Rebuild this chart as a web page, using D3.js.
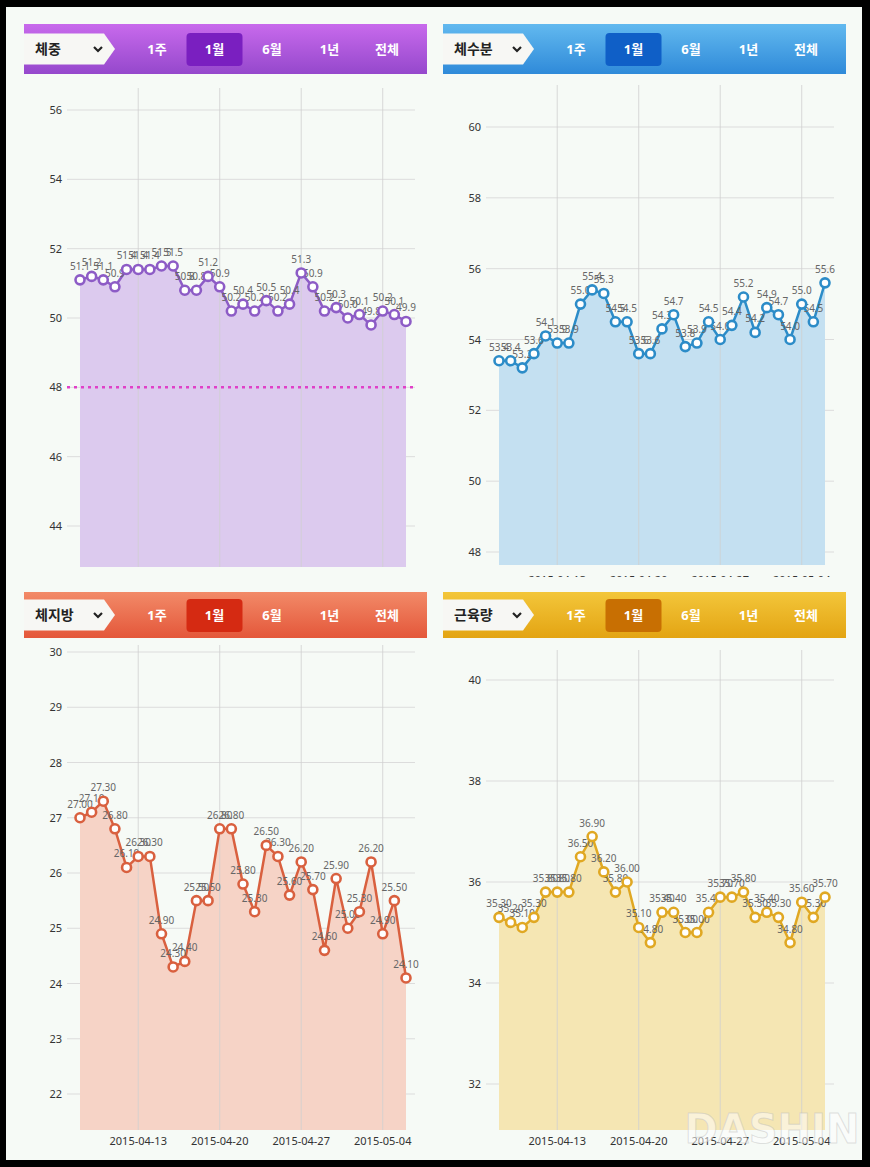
<!DOCTYPE html>
<html><head><meta charset="utf-8">
<script src="https://cdnjs.cloudflare.com/ajax/libs/d3/7.8.5/d3.min.js"></script>
<style>
html,body{margin:0;padding:0;background:#000;}
svg{display:block;}
</style></head>
<body>
<svg id="c" width="870" height="1167"></svg>
<script>
// ---------- data ----------
const dates = ["2015-04-08","2015-04-09","2015-04-10","2015-04-11","2015-04-12","2015-04-13","2015-04-14","2015-04-15","2015-04-16","2015-04-17","2015-04-18","2015-04-19","2015-04-20","2015-04-21","2015-04-22","2015-04-23","2015-04-24","2015-04-25","2015-04-26","2015-04-27","2015-04-28","2015-04-29","2015-04-30","2015-05-01","2015-05-02","2015-05-03","2015-05-04","2015-05-05","2015-05-06"];
const weight = [51.1,51.2,51.1,50.9,51.4,51.4,51.4,51.5,51.5,50.8,50.8,51.2,50.9,50.2,50.4,50.2,50.5,50.2,50.4,51.3,50.9,50.2,50.3,50.0,50.1,49.8,50.2,50.1,49.9];
const water = [53.4,53.4,53.2,53.6,54.1,53.9,53.9,55.0,55.4,55.3,54.5,54.5,53.6,53.6,54.3,54.7,53.8,53.9,54.5,54.0,54.4,55.2,54.2,54.9,54.7,54.0,55.0,54.5,55.6];
const fat = [27.0,27.1,27.3,26.8,26.1,26.3,26.3,24.9,24.3,24.4,25.5,25.5,26.8,26.8,25.8,25.3,26.5,26.3,25.6,26.2,25.7,24.6,25.9,25.0,25.3,26.2,24.9,25.5,24.1];
const muscle = [35.3,35.2,35.1,35.3,35.8,35.8,35.8,36.5,36.9,36.2,35.8,36.0,35.1,34.8,35.4,35.4,35.0,35.0,35.4,35.7,35.7,35.8,35.3,35.4,35.3,34.8,35.6,35.3,35.7];
const titles = ["체중","체수분","체지방","근육량"];
const tabs = ["1주","1월","6월","1년","전체"];
const selectedTab = "1월";
const xTicks = ["2015-04-13","2015-04-20","2015-04-27","2015-05-04"];
const yTicksWeight = [44,46,48,50,52,54,56];
const yTicksWater = [48,50,52,54,56,58,60];
const yTicksFat = [22,23,24,25,26,27,28,29,30];
const yTicksMuscle = [32,34,36,38,40];
const goalWeight = [48];

// ---------- layout / styles ----------
const parse = d3.timeParse("%Y-%m-%d");
const svg = d3.select("#c");
svg.append("rect").attr("x",6).attr("y",7).attr("width",856).attr("height",1153).attr("fill","#f6faf6");

const defs = svg.append("defs");

const panels = [
  {title:titles[0], values:weight, ticks:yTicksWeight, fmt:d3.format(".1f"), ox:0, hy:24, hh:50,
   yDom:[44,56], yRng:[526,110], plotTop:88, plotBot:567, clipBot:568, xLblDy:15, showX:false, goal:goalWeight,
   g1:"#c86aec", g2:"#9548cc", sel:"#7a1fc0", line:"#8d5cc6", fill:"#dccaee", lbl:"#666"},
  {title:titles[1], values:water, ticks:yTicksWater, fmt:d3.format(".1f"), ox:419, hy:24, hh:50,
   yDom:[48,60], yRng:[552,127], plotTop:85, plotBot:565, clipBot:577, xLblDy:19, showX:true, goal:[],
   g1:"#62b9ef", g2:"#2f8ad9", sel:"#0f5fc7", line:"#2c8cc8", fill:"#c4e0f1", lbl:"#666"},
  {title:titles[2], values:fat, ticks:yTicksFat, fmt:d3.format(".2f"), ox:0, hy:592, hh:46,
   yDom:[22,30], yRng:[1094,652], plotTop:645, plotBot:1130, clipBot:1146, xLblDy:15, showX:true, goal:[],
   g1:"#f28a68", g2:"#e4573a", sel:"#d52a12", line:"#d9603f", fill:"#f6d3c6", lbl:"#666"},
  {title:titles[3], values:muscle, ticks:yTicksMuscle, fmt:d3.format(".2f"), ox:419, hy:592, hh:46,
   yDom:[32,40], yRng:[1084,680], plotTop:650, plotBot:1130, clipBot:1146, xLblDy:15, showX:true, goal:[],
   g1:"#f3c63a", g2:"#e3a413", sel:"#c86f02", line:"#e0a823", fill:"#f5e6b3", lbl:"#666"}
];

const font = "'Noto Sans', 'Noto Sans CJK KR', sans-serif";

panels.forEach((p,pi)=>{
  const g = svg.append("g").attr("transform",`translate(${p.ox},0)`);
  // header gradient
  const gid = "hg"+pi;
  const lg = defs.append("linearGradient").attr("id",gid).attr("x1",0).attr("y1",0).attr("x2",0).attr("y2",1);
  lg.append("stop").attr("offset","0%").attr("stop-color",p.g1);
  lg.append("stop").attr("offset","100%").attr("stop-color",p.g2);
  const hx = 24, hw = 403;
  g.append("rect").attr("x",hx).attr("y",p.hy).attr("width",hw).attr("height",p.hh).attr("fill",`url(#${gid})`);
  const cy = p.hy + p.hh/2;
  const th = 31;
  g.append("path")
    .attr("d",`M${hx},${cy-th/2} H${hx+80} L${hx+91},${cy} L${hx+80},${cy+th/2} H${hx} Z`)
    .attr("fill","#f7f7f4");
  g.append("text").attr("x",hx+11).attr("y",cy+5).attr("font-family",font).attr("font-weight","bold")
    .attr("font-size",14).attr("fill","#222").text(p.title);
  g.append("path").attr("d",`M${hx+70},${cy-2} l4,4 l4,-4`).attr("fill","none").attr("stroke","#222").attr("stroke-width",2.2);
  const tabX = d3.scalePoint().domain(tabs).range([157,387]);
  tabs.forEach(t=>{
    if(t===selectedTab){
      g.append("rect").attr("x",tabX(t)-28).attr("y",cy-16).attr("width",56).attr("height",33).attr("rx",4)
        .attr("fill",p.sel);
    }
    g.append("text").attr("x",tabX(t)).attr("y",cy+5).attr("text-anchor","middle").attr("font-family",font)
      .attr("font-weight","bold").attr("font-size",13).attr("fill","#fff").text(t);
  });

  // scales
  const x = d3.scaleTime().domain([parse(dates[0]), parse(dates[dates.length-1])]).range([80,406]);
  const y = d3.scaleLinear().domain(p.yDom).range(p.yRng);

  const cid = "clip"+pi;
  defs.append("clipPath").attr("id",cid).append("rect").attr("x",0).attr("y",p.hy+p.hh).attr("width",440).attr("height",p.clipBot-(p.hy+p.hh));
  const pg = g.append("g").attr("clip-path",`url(#${cid})`);

  // horizontal grid
  pg.append("g").selectAll("line").data(p.ticks).join("line")
    .attr("x1",67).attr("x2",415).attr("y1",d=>y(d)).attr("y2",d=>y(d))
    .attr("stroke","#dcdcdc").attr("stroke-width",1);
  // y labels
  pg.append("g").selectAll("text").data(p.ticks).join("text")
    .attr("x",62).attr("y",d=>y(d)+4).attr("text-anchor","end").attr("font-family",font)
    .attr("font-size",11).attr("fill","#333").text(d=>d);

  const pts = dates.map((d,i)=>({d:parse(d), v:p.values[i]}));
  // area
  const area = d3.area().x(d=>x(d.d)).y0(p.plotBot).y1(d=>y(d.v));
  pg.append("path").datum(pts).attr("d",area).attr("fill",p.fill);
  // vertical grid
  pg.append("g").selectAll("line").data(xTicks).join("line")
    .attr("x1",d=>x(parse(d))).attr("x2",d=>x(parse(d))).attr("y1",p.plotTop).attr("y2",p.plotBot)
    .attr("stroke","#cfcfcf").attr("stroke-opacity",0.8).attr("stroke-width",1);
  // goal line
  pg.append("g").selectAll("line").data(p.goal).join("line")
    .attr("x1",67).attr("x2",415).attr("y1",d=>y(d)).attr("y2",d=>y(d))
    .attr("stroke","#e040c8").attr("stroke-width",2.5).attr("stroke-dasharray","3,4");
  // x labels
  if(p.showX){
    pg.append("g").selectAll("text").data(xTicks).join("text")
      .attr("x",d=>x(parse(d))).attr("y",p.plotBot+p.xLblDy).attr("text-anchor","middle").attr("font-family",font)
      .attr("font-size",11).attr("fill","#333").text(d=>d);
  }
  // line
  const line = d3.line().x(d=>x(d.d)).y(d=>y(d.v));
  pg.append("path").datum(pts).attr("d",line).attr("fill","none").attr("stroke",p.line).attr("stroke-width",2.5);
  // labels
  pg.append("g").selectAll("text").data(pts).join("text")
    .attr("x",d=>x(d.d)).attr("y",d=>y(d.v)-10).attr("text-anchor","middle").attr("font-family",font)
    .attr("font-size",10).attr("fill",p.lbl).text(d=>p.fmt(d.v));
  // markers
  pg.append("g").selectAll("circle").data(pts).join("circle")
    .attr("cx",d=>x(d.d)).attr("cy",d=>y(d.v)).attr("r",4.5)
    .attr("fill","#fff").attr("stroke",p.line).attr("stroke-width",2.6);
});

// watermark
svg.append("text").attr("x",772).attr("y",1143).attr("text-anchor","middle").attr("font-family","'DejaVu Sans', sans-serif")
  .attr("font-weight","bold").attr("font-size",40).attr("fill","#ffffff").attr("fill-opacity",0.5)
  .attr("stroke","#bbbbbb").attr("stroke-opacity",0.45).attr("stroke-width",1).text("DASHIN");
</script>
</body></html>
